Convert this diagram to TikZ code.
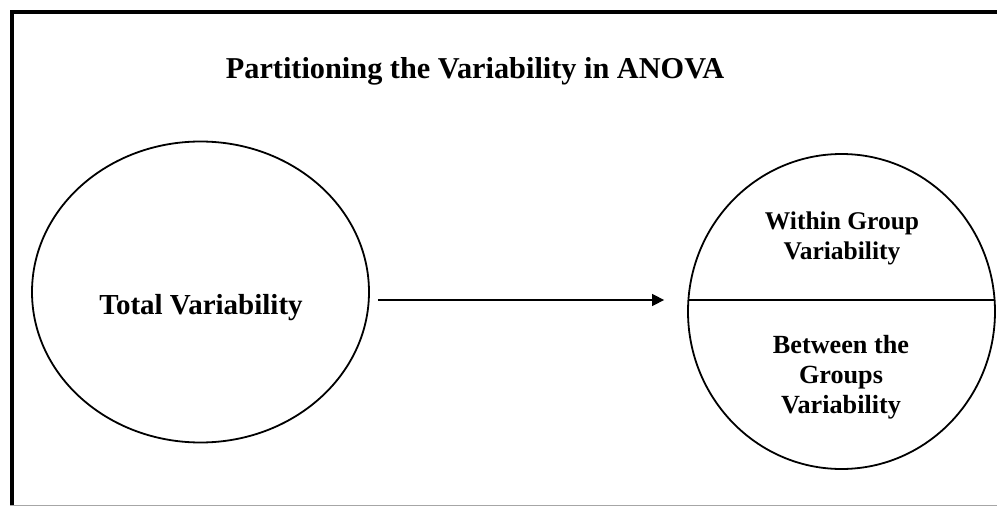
\documentclass[tikz,border=0pt]{standalone}
\usepackage{fontspec}
\setmainfont{Liberation Serif}
\usetikzlibrary{shapes.geometric,arrows.meta,calc}
\tikzset{
  bubble/.style={draw=black, line width=1.8pt, ellipse, inner sep=0pt},
  lbl/.style={font=\bfseries, text=black, align=center, inner sep=0pt},
  frameline/.style={draw=black, line width=4pt},
  connector/.style={draw=black, line width=1.5pt, -{Triangle[length=12pt,width=12pt]}}
}
\begin{document}
\begin{tikzpicture}[x=1pt,y=-1pt]
\useasboundingbox (0,0) rectangle (997,506);
% frame
\coordinate (ftl) at (12,12);
\coordinate (ftr) at (997,12);
\coordinate (fbl) at (12,506);
\coordinate (gbl) at (10,505);
\coordinate (gbr) at (997,505);
\draw[frameline] (ftl) -- (ftr);
\draw[frameline] ([yshift=2pt]ftl) -- (fbl);
\draw[gray!70, line width=1pt] (gbl) -- (gbr);
% title
\node[lbl, font=\bfseries\fontsize{30.3}{35}\selectfont] (title) at (475,71) {Partitioning the Variability in ANOVA};
% circles
\node[bubble, minimum width=337pt, minimum height=301pt] (total) at (200.5,292) {};
\node[bubble, minimum width=307pt, minimum height=315pt] (split) at (841.5,311.5) {};
\coordinate (sl) at ($(split.center)+(-153.1,-11.5)$);
\coordinate (sr) at ($(split.center)+(153.1,-11.5)$);
\draw[line width=1.5pt] (sl) -- (sr);
% labels
\node[lbl, font=\bfseries\fontsize{29}{33}\selectfont] (totallbl) at (201,308) {Total Variability};
\node[lbl, font=\bfseries\fontsize{25.5}{30}\selectfont] (within) at (842,238) {Within Group\\Variability};
\node[lbl, font=\bfseries\fontsize{26.2}{30}\selectfont] (between) at (841,377) {Between the\\Groups\\Variability};
% arrow
\draw[connector, shorten <=8pt, shorten >=23pt] (total.east |- sl) -- (split.west |- sl);
\end{tikzpicture}
\end{document}
